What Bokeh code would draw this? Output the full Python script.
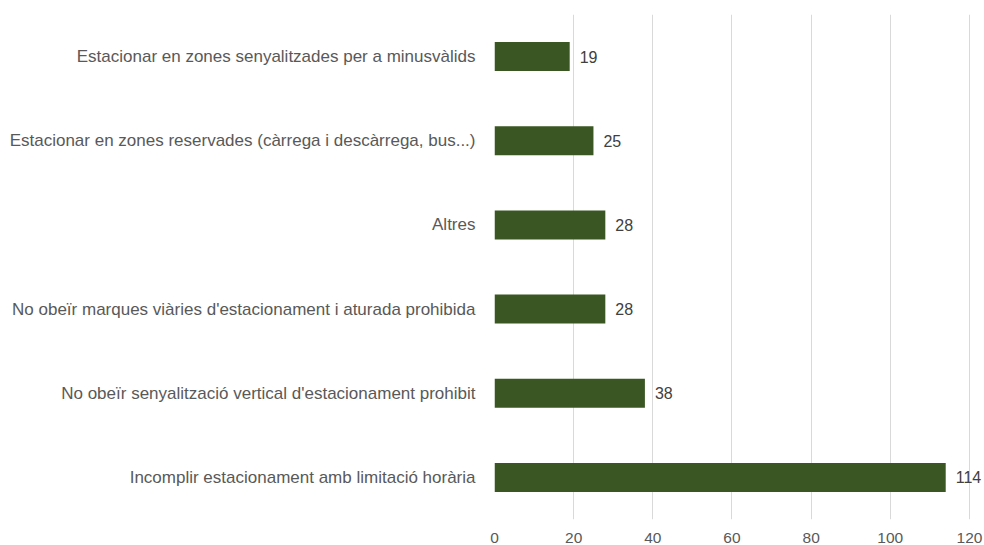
from bokeh.plotting import figure
from bokeh.models import ColumnDataSource, FactorRange, Range1d, FixedTicker
from bokeh.core.properties import value
from bokeh.embed import file_html
from bokeh.resources import INLINE

categories = [
    "Incomplir estacionament amb limitació horària",
    "No obeïr senyalització vertical d'estacionament prohibit",
    "No obeïr marques viàries d'estacionament i aturada prohibida",
    "Altres",
    "Estacionar en zones reservades (càrrega i descàrrega, bus...)",
    "Estacionar en zones senyalitzades per a minusvàlids",
]
values = [114, 38, 28, 28, 25, 19]
x_ticks = [0, 20, 40, 60, 80, 100, 120]

FONT = "Liberation Sans"

src = ColumnDataSource(dict(cat=categories, val=values, lab=[str(v) for v in values]))

# frame spans 0..123.8 so that value labels beyond 120 are not clipped
p = figure(
    width=984, height=545,
    y_range=FactorRange(*categories, range_padding=0),
    x_range=Range1d(0, 123.8),
    output_backend="svg", toolbar_location=None,
    min_border_left=494, min_border_right=0, min_border_top=14, min_border_bottom=26,
)
p.hbar(y="cat", right="val", height=0.345, source=src, color="#3a5723", line_color=None)
p.text(x="val", y="cat", text="lab", source=src, x_offset=10, text_align="left",
       text_baseline="middle", text_font=value(FONT), text_font_size="16px",
       text_color="#404040")

p.outline_line_color = None
p.background_fill_color = "white"
p.border_fill_color = "white"

p.xaxis.ticker = FixedTicker(ticks=x_ticks)
p.xaxis.axis_line_color = None
p.xaxis.major_tick_line_color = None
p.xaxis.minor_tick_line_color = None
p.xaxis.major_label_text_font = FONT
p.xaxis.major_label_text_font_size = "15.5px"
p.xaxis.major_label_text_color = "#595959"
p.xaxis.major_label_standoff = 7

p.yaxis.axis_line_color = None
p.yaxis.major_tick_line_color = None
p.yaxis.minor_tick_line_color = None
p.yaxis.major_label_text_font = FONT
p.yaxis.major_label_text_font_size = "17px"
p.yaxis.major_label_text_color = "#595959"
p.yaxis.major_label_standoff = 13

p.xgrid.grid_line_color = "#d9d9d9"
p.xgrid.grid_line_width = 1
p.ygrid.grid_line_color = None

open("out.html", "w").write(file_html(p, INLINE))
